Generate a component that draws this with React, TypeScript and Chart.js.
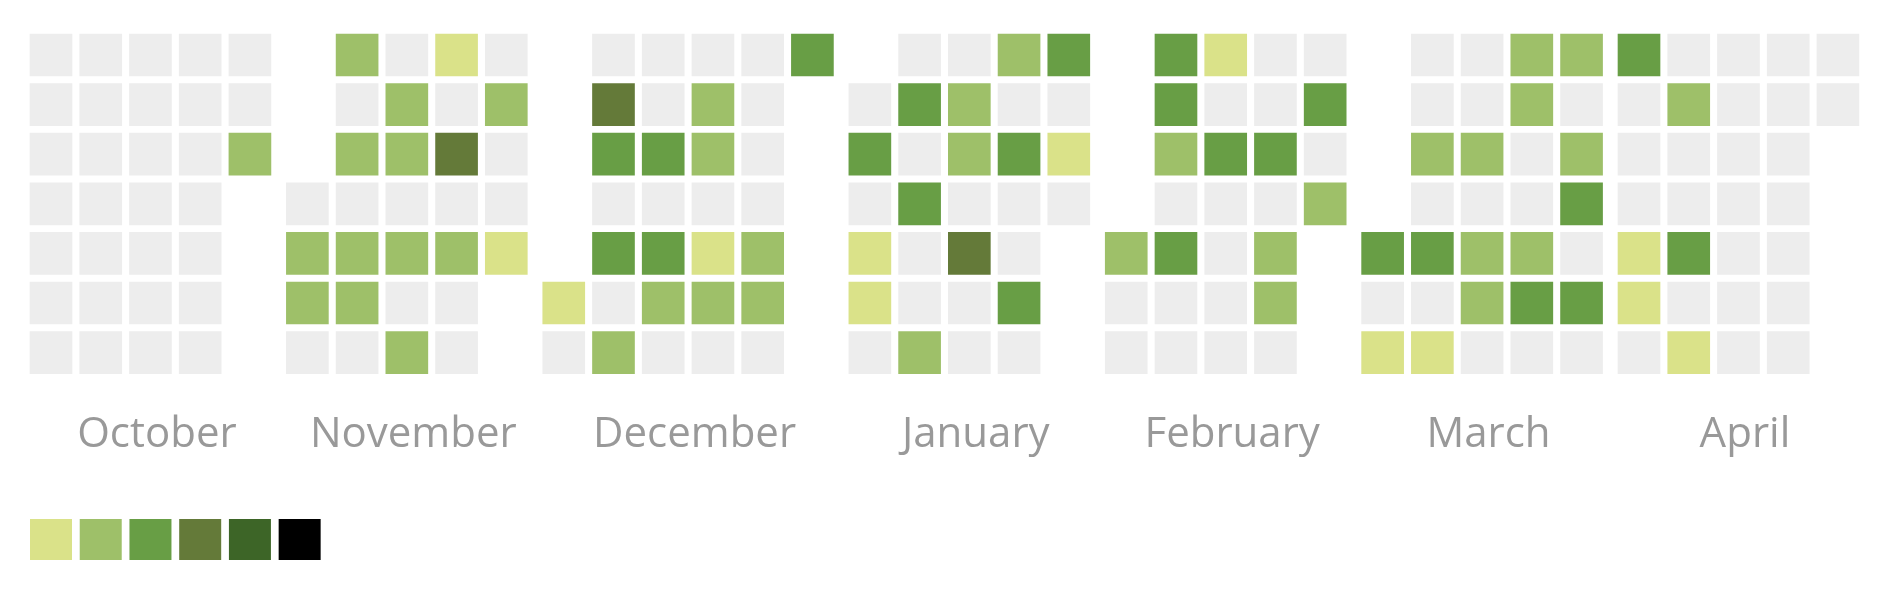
import React, { useEffect, useRef } from 'react';
import { Chart, registerables } from 'chart.js';

Chart.register(...registerables);

// ---------------- data ----------------
const monthNames = ['October', 'November', 'December', 'January', 'February', 'March', 'April'];
const monthYears = [2018, 2018, 2018, 2019, 2019, 2019, 2019];
const monthNumbers = [9, 10, 11, 0, 1, 2, 3];

const octoberValues = [0, 0, 0, 0, 0, 0, 0, 0, 0, 0, 0, 0, 0, 0, 0, 0, 0, 0, 0, 0, 0, 0, 0, 0, 0, 0, 0, 0, 0, 0, 2];
const novemberValues = [0, 2, 2, 0, 2, 0, 2, 0, 2, 2, 0, 0, 2, 2, 0, 2, 0, 2, 1, 0, 4, 0, 2, 0, 0, 0, 2, 0, 0, 1];
const decemberValues = [1, 0, 0, 4, 3, 0, 3, 0, 2, 0, 0, 3, 0, 3, 2, 0, 0, 2, 2, 0, 1, 2, 0, 0, 0, 0, 0, 2, 2, 0, 3];
const januaryValues = [0, 3, 0, 1, 1, 0, 0, 3, 0, 3, 0, 0, 2, 0, 2, 2, 0, 4, 0, 0, 2, 0, 3, 0, 0, 3, 0, 3, 0, 1, 0];
const februaryValues = [2, 0, 0, 3, 3, 2, 0, 3, 0, 0, 1, 0, 3, 0, 0, 0, 0, 0, 0, 3, 0, 2, 2, 0, 0, 3, 0, 2];
const marchValues = [3, 0, 1, 0, 0, 2, 0, 3, 0, 1, 0, 0, 2, 0, 2, 2, 0, 2, 2, 0, 0, 2, 3, 0, 2, 0, 2, 3, 0, 3, 0];
const aprilValues = [3, 0, 0, 0, 1, 1, 0, 0, 2, 0, 0, 3, 0, 1, 0, 0, 0, 0, 0, 0, 0, 0, 0, 0, 0, 0, 0, 0, 0, 0];

const monthValues = [octoberValues, novemberValues, decemberValues, januaryValues, februaryValues, marchValues, aprilValues];

const levelColors = ['#ededed', '#dae289', '#9ec069', '#689e45', '#647a39', '#3d6527', '#000000'];

// ---------------- layout ----------------
const CANVAS_W = 1878;
const COL_PITCH = 49.73;
const ROW_PITCH = 49.6;
const CELL = 42;
const MONTH_GAP = 7.73 / COL_PITCH;
const HALF_H = CELL / 2 / ROW_PITCH;
const PAD_LEFT = 15.27;
const PAD_BOTTOM = 14;
const FIRST_CELL_CX = 43;
const FIRST_CELL_CY = 47;
const PLOT_BOTTOM = 370;
const AXIS_HEIGHT = 134.27;
const LABEL_PADDING = 23.4;
const LABEL_SHIFT = 0.13;
const LEGEND_FONT = 2;
const LEGEND_PAD = COL_PITCH - CELL - LEGEND_FONT / 2;

function buildCells() {
  const perLevel: { x: number; y: number[] }[][] = levelColors.map(() => []);
  const centers: number[] = [];
  let col = 0;
  monthValues.forEach((values, m) => {
    const startRow = (new Date(monthYears[m], monthNumbers[m], 1).getDay() + 6) % 7;
    const nCols = Math.ceil((startRow + values.length) / 7);
    values.forEach((v, d) => {
      const k = startRow + d;
      const c = col + Math.floor(k / 7);
      const r = k % 7;
      const level = Math.min(v, levelColors.length - 1);
      perLevel[level].push({ x: c + m * MONTH_GAP, y: [r - HALF_H, r + HALF_H] });
    });
    centers.push(col + (nCols - 1) / 2 + m * MONTH_GAP + LABEL_SHIFT);
    col += nCols;
  });
  return { perLevel, centers };
}

export default function App() {
  const canvasRef = useRef<HTMLCanvasElement | null>(null);

  useEffect(() => {
    if (!canvasRef.current) return;
    const { perLevel, centers } = buildCells();
    const xMin = (PAD_LEFT - FIRST_CELL_CX) / COL_PITCH;
    const xMax = xMin + (CANVAS_W - PAD_LEFT) / COL_PITCH;
    const yMin = -FIRST_CELL_CY / ROW_PITCH;
    const yMax = yMin + PLOT_BOTTOM / ROW_PITCH;

    const chart = new Chart(canvasRef.current, {
      type: 'bar',
      data: {
        datasets: perLevel.map((points, level) => ({
          label: String(level),
          data: points as any,
          backgroundColor: levelColors[level],
          borderWidth: 0,
          borderSkipped: false,
          grouped: false,
          maxBarThickness: CELL,
          barThickness: CELL,
        })),
      },
      options: {
        animation: false,
        responsive: true,
        maintainAspectRatio: false,
        devicePixelRatio: 1,
        events: [],
        layout: { padding: { left: PAD_LEFT, right: 0, top: 0, bottom: PAD_BOTTOM } },
        scales: {
          x: {
            type: 'linear',
            min: xMin,
            max: xMax,
            offset: false,
            grid: { display: false },
            border: { display: false },
            afterBuildTicks: (scale: any) => {
              scale.ticks = centers.map((value) => ({ value }));
            },
            afterFit: (scale: any) => {
              scale.height = AXIS_HEIGHT;
            },
            ticks: {
              autoSkip: false,
              maxRotation: 0,
              minRotation: 0,
              padding: LABEL_PADDING,
              color: '#999999',
              font: { family: '"Open Sans"', size: 42 },
              callback: (_v: any, i: number) => monthNames[i],
            },
          },
          y: {
            type: 'linear',
            display: false,
            reverse: true,
            stacked: false,
            min: yMin,
            max: yMax,
          },
        },
        plugins: {
          tooltip: { enabled: false },
          legend: {
            display: true,
            position: 'bottom',
            align: 'start',
            onClick: () => {},
            labels: {
              boxWidth: CELL,
              boxHeight: 41,
              padding: LEGEND_PAD,
              font: { size: LEGEND_FONT },
              generateLabels: (c: any) =>
                c.data.datasets.slice(1).map((ds: any, i: number) => ({
                  text: '',
                  fillStyle: ds.backgroundColor,
                  strokeStyle: ds.backgroundColor,
                  lineWidth: 0,
                  hidden: false,
                  datasetIndex: i + 1,
                })),
            },
          },
        },
      } as any,
    });
    return () => chart.destroy();
  }, []);

  return (
    <div style={{ position: 'relative', width: '100%', height: 576 }}>
      <canvas ref={canvasRef} />
    </div>
  );
}
